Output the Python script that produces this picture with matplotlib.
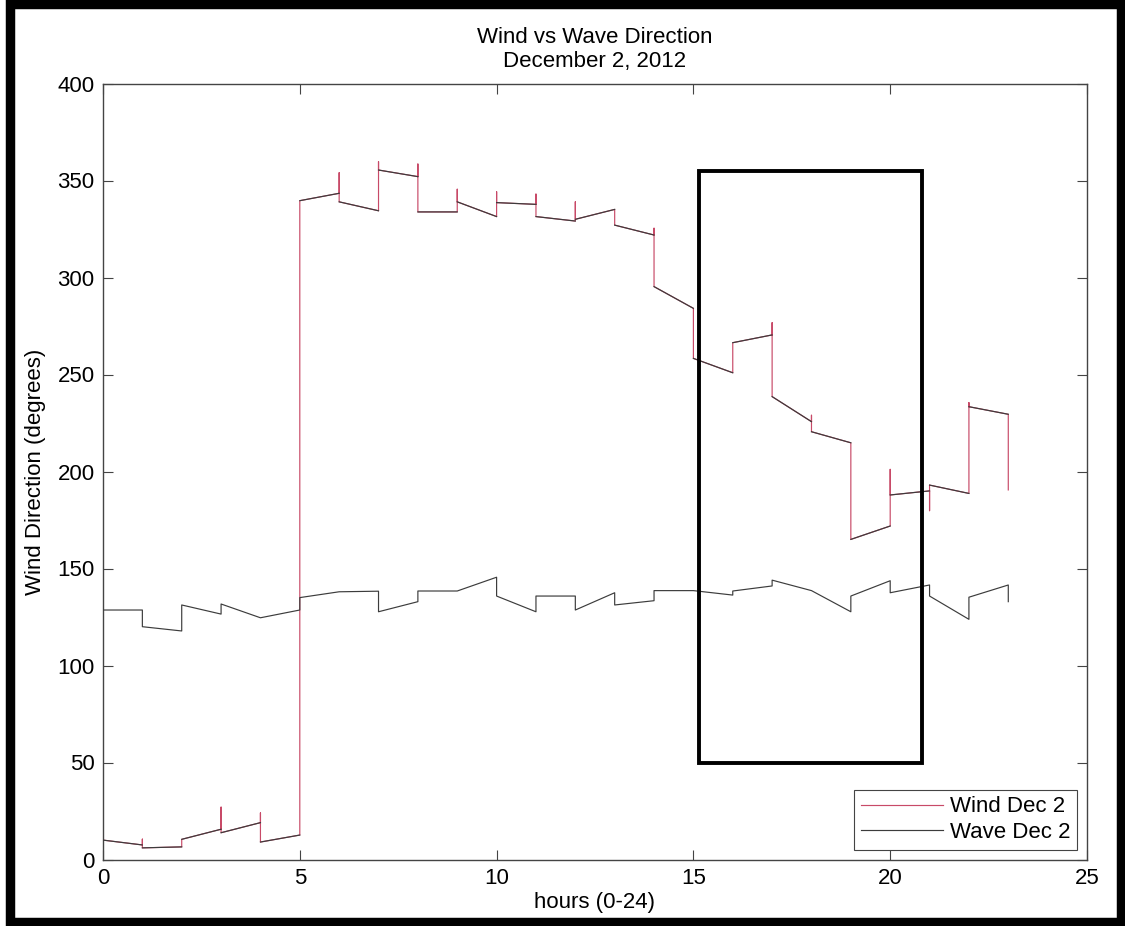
import matplotlib
matplotlib.use("Agg")
import matplotlib.pyplot as plt
from matplotlib.patches import Rectangle

plt.rcParams['font.family'] = ['Liberation Sans', 'DejaVu Sans']

# Hour marks (0-23)
hours = list(range(24))

# Wind direction: value at the start of each hour, value at the end of each hour,
# and the extreme reached during the jump at the hour mark (None = no overshoot)
wind_open = [10.0, 6.0, 10.4, 13.8, 9.0, 339.6, 339.0, 355.4, 333.8, 339.0,
             338.6, 331.4, 330.0, 327.0, 295.3, 258.3, 266.4, 238.6, 220.5,
             165.0, 187.9, 193.0, 233.4, 190.5]
wind_close = [7.5, 6.5, 15.6, 19.0, 12.6, 343.4, 334.4, 352.0, 333.8, 331.4,
              337.7, 329.1, 335.1, 321.9, 284.1, 250.9, 270.4, 225.7, 214.8,
              171.9, 190.0, 188.7, 229.5]
wind_spike = [None, 10.5, None, 27.0, 24.0, None, 354.0, 359.7, 358.5, 345.5,
              344.2, 343.0, 339.0, None, 325.4, None, None, 276.7, 229.0,
              None, 201.1, 179.8, 235.5, None]

# Wave direction: start / end value of each hour
wave_open = [128.6, 120.0, 131.2, 131.7, 124.6, 135.0, 138.0, 127.7, 138.4,
             138.4, 135.8, 135.8, 128.6, 131.2, 138.6, 138.6, 138.4, 144.0,
             138.6, 135.8, 137.5, 135.8, 135.2, 132.9]
wave_close = [128.6, 117.8, 126.5, 124.6, 128.6, 138.0, 138.3, 132.9, 138.4,
              145.5, 127.7, 135.8, 137.5, 133.4, 138.6, 136.3, 141.0, 138.6,
              127.7, 143.7, 141.5, 123.8, 141.5]

# Highlighted time window
box_x = (15.15, 20.8)
box_y = (50, 355)


def hourly_path(opens, closes, spikes=None):
    xs, ys = [], []
    for h in hours:
        if spikes is not None and spikes[h] is not None:
            xs.append(h)
            ys.append(spikes[h])
        xs.append(h)
        ys.append(opens[h])
        if h < len(closes):
            xs.append(h + 1)
            ys.append(closes[h])
    return xs, ys


W, H = 1125, 926
fig = plt.figure(figsize=(W / 100, H / 100), dpi=100)
ax = fig.add_axes([103 / W, (H - 859.5) / H, 984 / W, 776 / H])

red = '#c84a68'
dark = '#3c3c3c'

wx, wy = hourly_path(wind_open, wind_close, wind_spike)
ax.plot(wx, wy, color=red, lw=0.85, label='Wind Dec 2', zorder=2)
# hourly trend segments of the wind record
seg_x, seg_y = [], []
for h in range(len(wind_close)):
    seg_x += [h, h + 1, float('nan')]
    seg_y += [wind_open[h], wind_close[h], float('nan')]
ax.plot(seg_x, seg_y, color=dark, lw=0.85, zorder=3)

vx, vy = hourly_path(wave_open, wave_close)
ax.plot(vx, vy, color=dark, lw=0.85, label='Wave Dec 2', zorder=3)

ax.add_patch(Rectangle((box_x[0], box_y[0]), box_x[1] - box_x[0],
                       box_y[1] - box_y[0], fill=False, edgecolor='black',
                       lw=2.8, zorder=5))

ax.set_xlim(0, 25)
ax.set_ylim(0, 400)
ax.set_xticks([0, 5, 10, 15, 20, 25])
ax.set_yticks(range(0, 401, 50))
ax.tick_params(direction='in', length=7, width=0.8, color='#444444',
               labelsize=16, top=True, right=True, pad=6)
for s in ax.spines.values():
    s.set_color('#444444')
    s.set_linewidth(1.0)

ax.set_xlabel('hours (0-24)', fontsize=16, labelpad=2)
ax.set_ylabel('Wind Direction (degrees)', fontsize=16, labelpad=8)
ax.set_title('Wind vs Wave Direction\nDecember 2, 2012', fontsize=16,
             linespacing=1.15, pad=12)

leg = ax.legend(loc='lower right', fontsize=16, handlelength=3.7,
                handletextpad=0.3, labelspacing=0.2, borderpad=0.3,
                borderaxespad=0.45, fancybox=False, framealpha=1,
                edgecolor='#444444')
leg.get_frame().set_linewidth(0.8)

# outer black frame
fig.patches.append(Rectangle((10 / W, 4 / H), 1111 / W, 918 / H, fill=False,
                             edgecolor='black', lw=6.8,
                             transform=fig.transFigure, figure=fig))

fig.savefig('out.png', dpi=100)
